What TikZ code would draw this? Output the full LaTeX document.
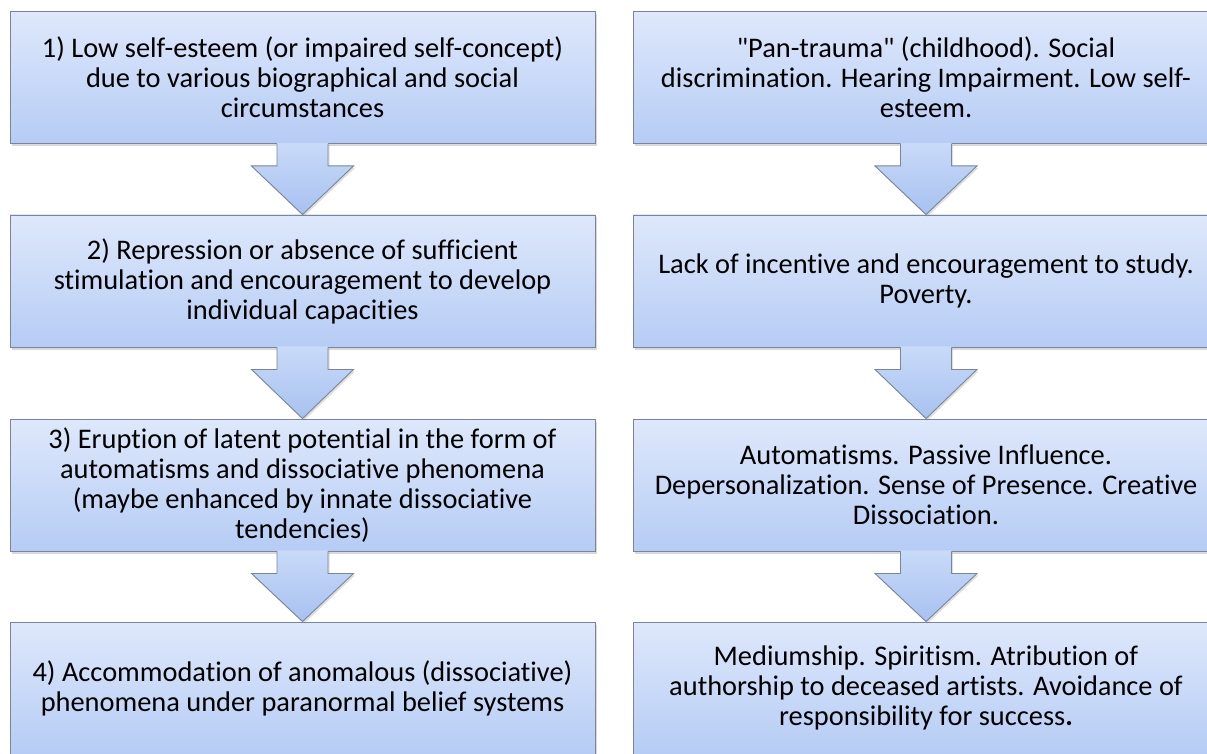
\documentclass[tikz,border=0pt]{standalone}
\usepackage{fontspec}
\setmainfont{Carlito}[Ligatures={NoCommon}]
\newfontfamily\plainq{Carlito}[Ligatures={NoCommon}]
\usetikzlibrary{shadows,calc}
\definecolor{boxtop}{HTML}{DEE8FB}
\definecolor{boxbot}{HTML}{B6CCF5}
\definecolor{edgecol}{HTML}{7A8599}
\definecolor{arrtop}{HTML}{C9DAF9}
\definecolor{arrbot}{HTML}{A7C1F0}
\tikzset{
  stepbox/.style={rectangle, draw=edgecol, line width=0.9pt,
    top color=boxtop, bottom color=boxbot,
    minimum width=585pt, minimum height=132pt, inner sep=0pt,
    align=center, text=black,
    font=\fontsize{28.4}{30}\selectfont,
    drop shadow={opacity=0.3, shadow xshift=1.5pt, shadow yshift=-2.5pt}},
  arrowfill/.style={top color=arrtop, bottom color=arrbot,
    drop shadow={opacity=0.25, shadow xshift=1.5pt, shadow yshift=-2pt}},
  arrowline/.style={draw=edgecol, line width=0.9pt, line join=miter}
}
\newcommand\blockarr[2]{%
  \path[arrowfill] ($(#1.south)+(-25.5,-1)$) -- ($(#1.south)+(-25.5,22)$)
    -- ($(#1.south)+(-51,22)$) -- (#2.north) -- ($(#1.south)+(51,22)$)
    -- ($(#1.south)+(25.5,22)$) -- ($(#1.south)+(25.5,-1)$) -- cycle;
  \draw[arrowline] ($(#1.south)+(-25.5,0)$) -- ($(#1.south)+(-25.5,22)$)
    -- ($(#1.south)+(-51,22)$) -- (#2.north) -- ($(#1.south)+(51,22)$)
    -- ($(#1.south)+(25.5,22)$) -- ($(#1.south)+(25.5,0)$);
}
\begin{document}
\begin{tikzpicture}[x=1pt,y=-1pt]
\useasboundingbox (0,0) rectangle (1207,754);
\begin{scope}
\clip (0,0) rectangle (1207,754);
% left column
\node[stepbox] (l1) at (302.5,77.5) {1) Low self-esteem (or impaired self-concept)\\due to various biographical and social\\circumstances};
\node[stepbox] (l2) at (302.5,281) {2) Repression or absence of sufficient\\stimulation and encouragement to develop\\individual capacities};
\node[stepbox] (l3) at (302.5,485) {3) Eruption of latent potential in the form of\\automatisms and dissociative phenomena\\(maybe enhanced by innate dissociative\\tendencies)};
\node[stepbox] (l4) at (302.5,688) {4) Accommodation of anomalous (dissociative)\\phenomena under paranormal belief systems};
% right column
\node[stepbox] (r1) at (926,77.5) {{\plainq"}Pan-trauma{\plainq"} (childhood). Social\\discrimination. Hearing Impairment. Low self-\\esteem.};
\node[stepbox] (r2) at (926,281) {Lack of incentive and encouragement to study.\\Poverty.};
\node[stepbox] (r3) at (926,485) {Automatisms. Passive Influence.\\Depersonalization. Sense of Presence. Creative\\Dissociation.};
\node[stepbox] (r4) at (926,688) {Mediumship. Spiritism. Atribution of\\authorship to deceased artists. Avoidance of\\responsibility for success\textbf{.}};
% arrows
\blockarr{l1}{l2}
\blockarr{l2}{l3}
\blockarr{l3}{l4}
\blockarr{r1}{r2}
\blockarr{r2}{r3}
\blockarr{r3}{r4}
\end{scope}
\end{tikzpicture}
\end{document}
